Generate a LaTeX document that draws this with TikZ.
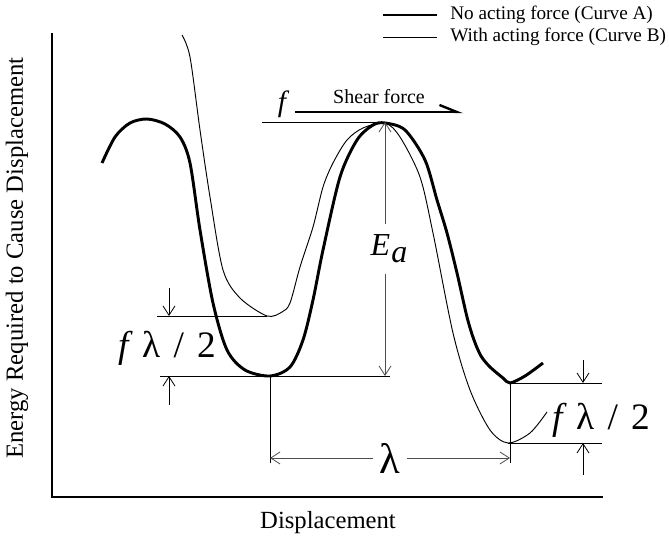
\documentclass[tikz,border=0pt]{standalone}
\usepackage{fontspec}
\setmainfont{Liberation Serif}
\usetikzlibrary{arrows.meta}

\begin{document}
\begin{tikzpicture}[x=0.75pt, y=-0.75pt,
  curveA/.style={line width=2.2pt, line join=round},
  curveB/.style={line width=0.7pt},
  axis/.style={line width=1.6pt},
  guide/.style={line width=0.6pt},
  dimarr/.style={line width=0.6pt, draw=black!70,
                 {Straight Barb[length=7pt,width=9pt]}-{Straight Barb[length=7pt,width=9pt]}},
  tickarr/.style={line width=0.6pt, -{Straight Barb[length=7pt,width=9pt]}},
  shear/.style={line width=1.8pt, -{Straight Barb[harpoon,length=13pt,width=10.5pt]}},
  lgd/.style={font=\fontsize{14.4}{16}\selectfont, anchor=west, inner sep=0pt},
  axlbl/.style={font=\fontsize{18.5}{20}\selectfont, inner sep=0pt},
  big/.style={font=\fontsize{28}{32}\selectfont, inner sep=0pt},
]
\useasboundingbox (0,0) rectangle (669,541);

%% ── axes ──────────────────────────────────────────
\coordinate (ytop) at (52,33);
\coordinate (orig) at (52,497);
\coordinate (xend) at (603,497);
\draw[axis] (ytop) -- (orig) -- (xend);
\node[axlbl, rotate=90] (ylab) at (17,258) {Energy Required to Cause Displacement};
\node[axlbl] (xlab) at (328,523) {Displacement};

%% ── legend ────────────────────────────────────────
\coordinate (lgA1) at (383,15);  \coordinate (lgA2) at (437,15);
\coordinate (lgB1) at (383,37);  \coordinate (lgB2) at (437,37);
\draw[curveA] (lgA1) -- (lgA2);
\draw[curveB] (lgB1) -- (lgB2);
\node[lgd] (lgA) at (450,15) {No acting force (Curve A)};
\node[lgd] (lgB) at (450,37) {With acting force (Curve B)};

%% ── curves ────────────────────────────────────────
% Curve A: no acting force
\draw[curveA] plot[smooth] coordinates {
  (102,163) (115,137) (130,123) (147,119) (165,124) (180,137) (190,163)
  (200,230) (213,303) (227,350) (245,370) (270,376) (290,367) (303,340)
  (313,300) (323,250) (340,177) (357,140) (373,125) (385,123) (405,130)
  (425,160) (437,200) (447,233) (457,273) (467,317) (474,340) (481,356)
  (490,367) (503,378) (510,383) (525,376) (543,363)};
% Curve B: with acting force
\draw[curveB] plot[smooth] coordinates {
  (182,35) (190,57) (200,130) (210,197) (223,270) (240,298) (267,316)
  (282,312) (290,303) (300,267) (313,227) (323,187) (333,163) (347,140)
  (363,128) (385,123) (400,137) (420,177) (433,233) (453,333) (470,390)
  (490,430) (508,443) (530,433) (547,412)};

%% ── shear force ───────────────────────────────────
\coordinate (shL) at (295,112);
\coordinate (shR) at (463,112);
\draw[shear] (shL) -- (shR);
\node[font=\fontsize{15}{17}\selectfont, inner sep=0pt] (shtxt) at (379,97) {Shear force};
\node[font=\fontsize{22}{24}\selectfont\itshape, inner sep=0pt] (fsym) at (282,104) {f};

%% ── activation energy ─────────────────────────────
\coordinate (fl)   at (262,122);
\coordinate (pk)   at (385,122);
\coordinate (aMn1) at (270,376);
\coordinate (eaBt) at (385,376);
\coordinate (eaRt) at (390,376);
\draw[guide] (fl) -- (pk);
\draw[dimarr] (pk) -- node[fill=white, inner xsep=2pt, inner ysep=8pt,
  font=\fontsize{24}{26}\selectfont\itshape, xshift=3pt] (ea) {E\kern1pt\raisebox{-5pt}{a}} (eaBt);

%% ── left f lambda / 2 ─────────────────────────────
\coordinate (bMn1) at (267,316);
\coordinate (lgl1) at (157,316);
\coordinate (lgl2) at (160,376);
\coordinate (ltT)  at (169,288);
\coordinate (ltA)  at (169,316);
\coordinate (lbB)  at (169,405);
\coordinate (lbA)  at (169,376);
\draw[guide] (lgl1) -- (bMn1);
\draw[guide] (lgl2) -- (eaRt);
\draw[tickarr] (ltT) -- (ltA);
\draw[tickarr] (lbB) -- (lbA);
\node[big] (fl1) at (167,348) {\textit{f}\hspace{7pt}λ\hspace{10pt}/\hspace{10pt}2};

%% ── right f lambda / 2 ────────────────────────────
\coordinate (aMn2) at (510,383);
\coordinate (bMn2) at (508,443);
\coordinate (rgl1) at (602,383);
\coordinate (rgl2) at (602,443);
\coordinate (rtT)  at (583,360);
\coordinate (rtA)  at (583,383);
\coordinate (rbB)  at (583,475);
\coordinate (rbA)  at (583,443);
\draw[guide] (aMn2) -- (rgl1);
\draw[guide] (bMn2) -- (rgl2);
\draw[tickarr] (rtT) -- (rtA);
\draw[tickarr] (rbB) -- (rbA);
\node[big] (fl2) at (601,420) {\textit{f}\hspace{7pt}λ\hspace{10pt}/\hspace{10pt}2};

%% ── lambda ────────────────────────────────────────
\coordinate (ldL) at (270,463);
\coordinate (ldR) at (510,463);
\coordinate (lmL) at (270,458);
\coordinate (lmR) at (510,458);
\draw[guide] (aMn1) -- (ldL);
\draw[guide] (aMn2) -- (ldR);
\draw[dimarr] (lmL) -- node[fill=white, inner xsep=5pt, inner ysep=0pt,
  font=\fontsize{32}{34}\selectfont] (lam) {λ} (lmR);

\end{tikzpicture}
\end{document}
